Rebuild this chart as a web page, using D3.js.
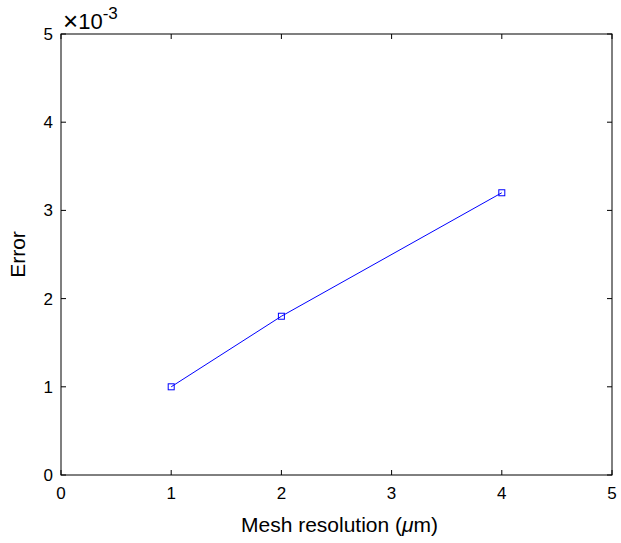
<!DOCTYPE html>
<html>
<head>
<meta charset="utf-8">
<script src="https://cdn.jsdelivr.net/npm/d3@7"></script>
<style>
  body { margin: 0; background: #fff; }
  text { font-family: "Liberation Sans", Arial, sans-serif; fill: #000; }
</style>
</head>
<body>
<div id="chart"></div>
<script>
// Data
const meshRes = [1, 2, 4];
const errorVals = [1.0e-3, 1.8e-3, 3.2e-3];
const xTicks = [0, 1, 2, 3, 4, 5];
const yTicks = [0, 1, 2, 3, 4, 5]; // in units of 1e-3

const width = 621, height = 543;
const margin = { left: 61, top: 34, right: 9, bottom: 68 };

const svg = d3.select("#chart").append("svg")
    .attr("width", width)
    .attr("height", height);

const x = d3.scaleLinear().domain([0, 5]).range([margin.left, width - margin.right]);
const y = d3.scaleLinear().domain([0, 5e-3]).range([height - margin.bottom, margin.top]);

const tickLen = 5;

// Axes box
svg.append("rect")
    .attr("x", x(0)).attr("y", y(5e-3))
    .attr("width", x(5) - x(0)).attr("height", y(0) - y(5e-3))
    .attr("fill", "none").attr("stroke", "#000").attr("stroke-width", 1);

// Bottom / top ticks
svg.append("g").selectAll("line.xb").data(xTicks).enter().append("line")
    .attr("x1", d => x(d)).attr("x2", d => x(d))
    .attr("y1", y(0)).attr("y2", y(0) - tickLen)
    .attr("stroke", "#000");
svg.append("g").selectAll("line.xt").data(xTicks).enter().append("line")
    .attr("x1", d => x(d)).attr("x2", d => x(d))
    .attr("y1", y(5e-3)).attr("y2", y(5e-3) + tickLen)
    .attr("stroke", "#000");
svg.append("g").selectAll("text").data(xTicks).enter().append("text")
    .attr("x", d => x(d)).attr("y", y(0) + 24)
    .attr("text-anchor", "middle").attr("font-size", 17)
    .text(d => d);

// Left / right ticks
svg.append("g").selectAll("line.yl").data(yTicks).enter().append("line")
    .attr("x1", x(0)).attr("x2", x(0) + tickLen)
    .attr("y1", d => y(d * 1e-3)).attr("y2", d => y(d * 1e-3))
    .attr("stroke", "#000");
svg.append("g").selectAll("line.yr").data(yTicks).enter().append("line")
    .attr("x1", x(5)).attr("x2", x(5) - tickLen)
    .attr("y1", d => y(d * 1e-3)).attr("y2", d => y(d * 1e-3))
    .attr("stroke", "#000");
svg.append("g").selectAll("text").data(yTicks).enter().append("text")
    .attr("x", x(0) - 8).attr("y", d => y(d * 1e-3) + 6)
    .attr("text-anchor", "end").attr("font-size", 17)
    .text(d => d);

// Exponent label
const expo = svg.append("text")
    .attr("x", x(0) + 2).attr("y", 29)
    .attr("font-size", 22);
expo.append("tspan").attr("font-size", 26).attr("dy", 1).text("\u00d7");
expo.append("tspan").attr("dy", -1).text("10");
expo.append("tspan").attr("dy", -10).attr("font-size", 17).text("-3");

// Axis titles
const xl = svg.append("text")
    .attr("x", x(2.5) + 3).attr("y", 532)
    .attr("text-anchor", "middle").attr("font-size", 21);
xl.append("tspan").text("Mesh resolution (");
xl.append("tspan").attr("font-style", "italic").text("\u03bc");
xl.append("tspan").text("m)");

svg.append("text")
    .attr("transform", `translate(25,${(y(0) + y(5e-3)) / 2}) rotate(-90)`)
    .attr("text-anchor", "middle").attr("font-size", 21)
    .text("Error");

// Line
const pts = meshRes.map((d, i) => [d, errorVals[i]]);
svg.append("path")
    .datum(pts)
    .attr("d", d3.line().x(d => x(d[0])).y(d => y(d[1])))
    .attr("fill", "none").attr("stroke", "#0000ff").attr("stroke-width", 1);

// Square markers
svg.selectAll("rect.m").data(pts).enter().append("rect")
    .attr("class", "m")
    .attr("x", d => x(d[0]) - 3).attr("y", d => y(d[1]) - 3)
    .attr("width", 6).attr("height", 6)
    .attr("fill", "none").attr("stroke", "#0000ff").attr("stroke-width", 1);
</script>
</body>
</html>
